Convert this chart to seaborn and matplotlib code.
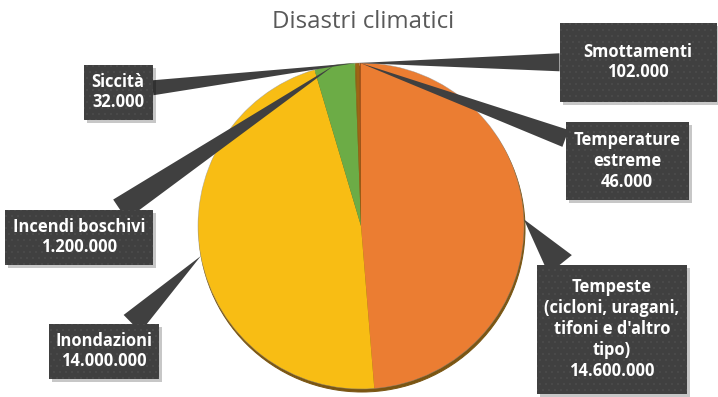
import numpy as np
import matplotlib
matplotlib.use("Agg")
import matplotlib.pyplot as plt
import seaborn as sns
from matplotlib.patches import Circle, Rectangle

# ---- data ----
categories = ["Tempeste\n(cicloni, uragani,\ntifoni e d'altro\ntipo)", "Inondazioni",
              "Incendi boschivi", "Siccità", "Smottamenti", "Temperature\nestreme"]
values = [14600000, 14000000, 1200000, 32000, 102000, 46000]
value_labels = ["14.600.000", "14.000.000", "1.200.000", "32.000", "102.000", "46.000"]
colors = ["#EB7D32", "#F8BD14", "#6CAC46", "#8F7420", "#A06414", "#A8561C"]
title = "Disastri climatici"

sns.set_theme(style="white")
plt.rcParams['font.family'] = ['Open Sans', 'DejaVu Sans']
plt.rcParams['hatch.linewidth'] = 1.0

W, H = 718, 397
fig = plt.figure(figsize=(W / 72, H / 72), dpi=72)
ax = fig.add_axes([0, 0, 1, 1])

cx, cy, R = 361, H - 226, 163

# bottom rim / shadow of the pie
ax.add_patch(Circle((cx + 1, cy - 3), R, color='#7a5512', zorder=1))
wedges, _ = ax.pie(values, colors=colors, startangle=90, counterclock=False,
                   center=(cx, cy), radius=R, frame=True,
                   wedgeprops=dict(linewidth=0, edgecolor='none', zorder=2))
ax.add_patch(Circle((cx, cy), R, facecolor='none', edgecolor='#8a8a8a',
                    linewidth=0.6, alpha=0.6, zorder=2.5))

# label box layout (center x, center y from top, width, height), leader tail width
layout = [
    (612, 329, 150, 129, 30),
    (104, 351, 110, 55, 24),
    (79, 237, 148, 55, 24),
    (118, 92, 69, 55, 15),
    (638, 62, 157, 79, 18),
    (627, 161, 123, 78, 18),
]

for w, name, val, (bx, byt, bw, bh, tw) in zip(wedges, categories, value_labels, layout):
    by = H - byt
    mid = np.deg2rad((w.theta1 + w.theta2) / 2)
    tip = (cx + R * np.cos(mid), cy + R * np.sin(mid))
    # shadow
    ax.add_patch(Rectangle((bx - bw / 2 + 3, by - bh / 2 - 3), bw, bh,
                           facecolor='#000000', alpha=0.22, edgecolor='none',
                           linewidth=0, zorder=4))
    rect = Rectangle((bx - bw / 2, by - bh / 2), bw, bh, facecolor='#404040',
                     edgecolor='#4a4a4a', linewidth=0, hatch='..', zorder=5)
    ax.add_patch(rect)
    ax.annotate("", xy=tip, xytext=(bx, by),
                arrowprops=dict(arrowstyle=f"wedge,tail_width={tw},shrink_factor=0.5",
                                fc='#404040', ec='none', lw=0, patchA=rect, shrinkA=0,
                                shrinkB=0, mutation_scale=1),
                zorder=3)
    ax.text(bx, by, f"{name}\n{val}", ha='center', va='center', ma='center',
            color='white', fontweight='bold', fontsize=16.5, linespacing=1.2, zorder=6)

ax.text(363, H - 22, title, ha='center', va='center', fontsize=24,
        color='#595959', fontweight='normal')

ax.set_xlim(0, W)
ax.set_ylim(0, H)
ax.set_aspect('auto')
ax.axis('off')
fig.savefig("out.png", dpi=72)
